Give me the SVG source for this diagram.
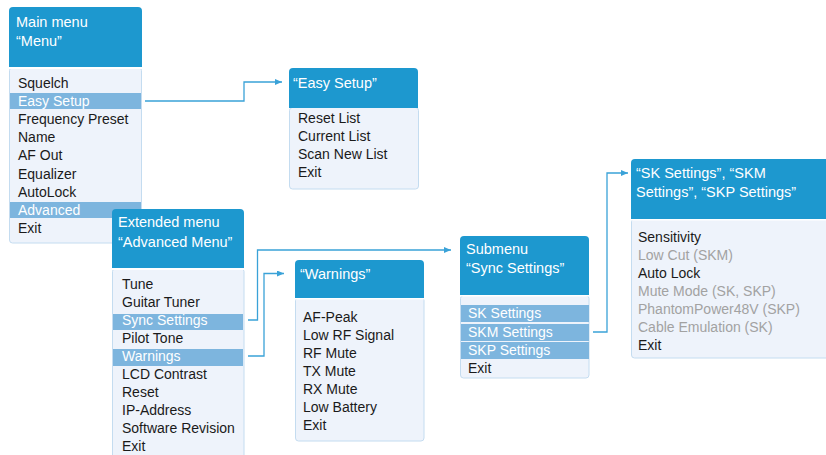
<svg xmlns="http://www.w3.org/2000/svg" width="826" height="455" viewBox="0 0 826 455">
<defs>
<style>
.hd{fill:#1d98cf}
.bd{fill:#eef3fb;stroke:#c4dcf0;stroke-width:1}
.hl{fill:#7db5de}
.ht{font-family:"Liberation Sans",Arial,sans-serif;font-size:14.5px;fill:#ffffff}
.t{font-family:"Liberation Sans",Arial,sans-serif;font-size:14px;fill:#1a1a1a}
.g{fill:#a2a2a2}
.w{fill:#ffffff}
.c{fill:none;stroke:#3aa2d8;stroke-width:1.3}
</style>
<marker id="ah" markerWidth="8" markerHeight="6" refX="7" refY="3" orient="auto" markerUnits="userSpaceOnUse">
<path d="M0,0 L7,3 L0,6 Z" fill="#3aa2d8"/>
</marker>
</defs>
<rect width="826" height="455" fill="#ffffff"/>

<g id="main-menu">
<rect class="bd" x="9.5" y="67.5" width="132" height="175.5" rx="3"/>
<path class="hd" d="M9,67 V11 a4,4 0 0 1 4,-4 H138 a4,4 0 0 1 4,4 V67 Z"/>
<rect class="w" x="9" y="67" width="133" height="2"/>
<rect class="hl" x="10" y="93" width="131" height="16"/>
<rect class="hl" x="10" y="202" width="131" height="16"/>
<text class="ht" x="16" y="27">Main menu</text>
<text class="ht" x="16" y="46">“Menu”</text>
<text class="t" x="18" y="88">Squelch</text>
<text class="t w" x="18" y="106">Easy Setup</text>
<text class="t" x="18" y="124">Frequency Preset</text>
<text class="t" x="18" y="142">Name</text>
<text class="t" x="18" y="160">AF Out</text>
<text class="t" x="18" y="179">Equalizer</text>
<text class="t" x="18" y="197">AutoLock</text>
<text class="t w" x="18" y="215">Advanced</text>
<text class="t" x="18" y="233">Exit</text>
</g>

<g id="easy-setup">
<rect class="bd" x="289.5" y="107.5" width="129" height="81.5" rx="3"/>
<path class="hd" d="M289,108 V72 a4,4 0 0 1 4,-4 H414 a4,4 0 0 1 4,4 V108 Z"/>
<text class="ht" x="293" y="88">“Easy Setup”</text>
<text class="t" x="298" y="123">Reset List</text>
<text class="t" x="298" y="141">Current List</text>
<text class="t" x="298" y="159">Scan New List</text>
<text class="t" x="298" y="177">Exit</text>
</g>

<g id="extended-menu">
<rect class="bd" x="112.5" y="268.5" width="131.5" height="190" rx="3"/>
<path class="hd" d="M112,268 V213 a4,4 0 0 1 4,-4 H240 a4,4 0 0 1 4,4 V268 Z"/>
<rect class="w" x="112" y="268" width="132" height="2"/>
<rect class="hl" x="113" y="314" width="130" height="16"/>
<rect class="hl" x="113" y="349" width="130" height="17"/>
<text class="ht" x="118" y="227">Extended menu</text>
<text class="ht" x="118" y="247">“Advanced Menu”</text>
<text class="t" x="122" y="289">Tune</text>
<text class="t" x="122" y="307">Guitar Tuner</text>
<text class="t w" x="122" y="325">Sync Settings</text>
<text class="t" x="122" y="343">Pilot Tone</text>
<text class="t w" x="122" y="361">Warnings</text>
<text class="t" x="122" y="379">LCD Contrast</text>
<text class="t" x="122" y="397">Reset</text>
<text class="t" x="122" y="415">IP-Address</text>
<text class="t" x="122" y="433">Software Revision</text>
<text class="t" x="122" y="451">Exit</text>
</g>

<g id="warnings">
<rect class="bd" x="295.5" y="297.5" width="128.5" height="143.5" rx="3"/>
<path class="hd" d="M295,298 V264 a4,4 0 0 1 4,-4 H420 a4,4 0 0 1 4,4 V298 Z"/>
<rect class="w" x="295" y="298" width="129" height="1.5"/>
<text class="ht" x="300" y="279">“Warnings”</text>
<text class="t" x="303" y="322">AF-Peak</text>
<text class="t" x="303" y="340">Low RF Signal</text>
<text class="t" x="303" y="358">RF Mute</text>
<text class="t" x="303" y="376">TX Mute</text>
<text class="t" x="303" y="394">RX Mute</text>
<text class="t" x="303" y="412">Low Battery</text>
<text class="t" x="303" y="430">Exit</text>
</g>

<g id="sync-settings">
<rect class="bd" x="460.5" y="295.5" width="128.5" height="82.5" rx="3"/>
<path class="hd" d="M460,295 V240 a4,4 0 0 1 4,-4 H585 a4,4 0 0 1 4,4 V295 Z"/>
<rect class="w" x="460" y="295" width="129" height="1.5"/>
<rect class="hl" x="461" y="305" width="128" height="17"/>
<rect class="hl" x="461" y="324" width="128" height="17"/>
<rect class="hl" x="461" y="342" width="128" height="17"/>
<text class="ht" x="466" y="254">Submenu</text>
<text class="ht" x="466" y="273">“Sync Settings”</text>
<text class="t w" x="468" y="318">SK Settings</text>
<text class="t w" x="468" y="337">SKM Settings</text>
<text class="t w" x="468" y="355">SKP Settings</text>
<text class="t" x="468" y="373">Exit</text>
</g>

<g id="sk-settings">
<rect class="bd" x="631.5" y="218.5" width="200" height="139.5" rx="3"/>
<path class="hd" d="M631,219 V163 a4,4 0 0 1 4,-4 H830 V219 Z"/>
<rect class="w" x="631" y="219" width="199" height="1.5"/>
<text class="ht" x="636" y="178">“SK Settings”, “SKM</text>
<text class="ht" x="636" y="197">Settings”, “SKP Settings”</text>
<text class="t" x="638" y="242">Sensitivity</text>
<text class="t g" x="638" y="260">Low Cut (SKM)</text>
<text class="t" x="638" y="278">Auto Lock</text>
<text class="t g" x="638" y="296">Mute Mode (SK, SKP)</text>
<text class="t g" x="638" y="314">PhantomPower48V (SKP)</text>
<text class="t g" x="638" y="332">Cable Emulation (SK)</text>
<text class="t" x="638" y="350">Exit</text>
</g>

<g id="connectors">
<path class="c" d="M145,101 H244 V82 H282" marker-end="url(#ah)"/>
<path class="c" d="M248,320 H257.5 V250 H451" marker-end="url(#ah)"/>
<path class="c" d="M248,356 H264 V273.5 H284" marker-end="url(#ah)"/>
<path class="c" d="M593,332 H607 V173 H628" marker-end="url(#ah)"/>
</g>
</svg>
